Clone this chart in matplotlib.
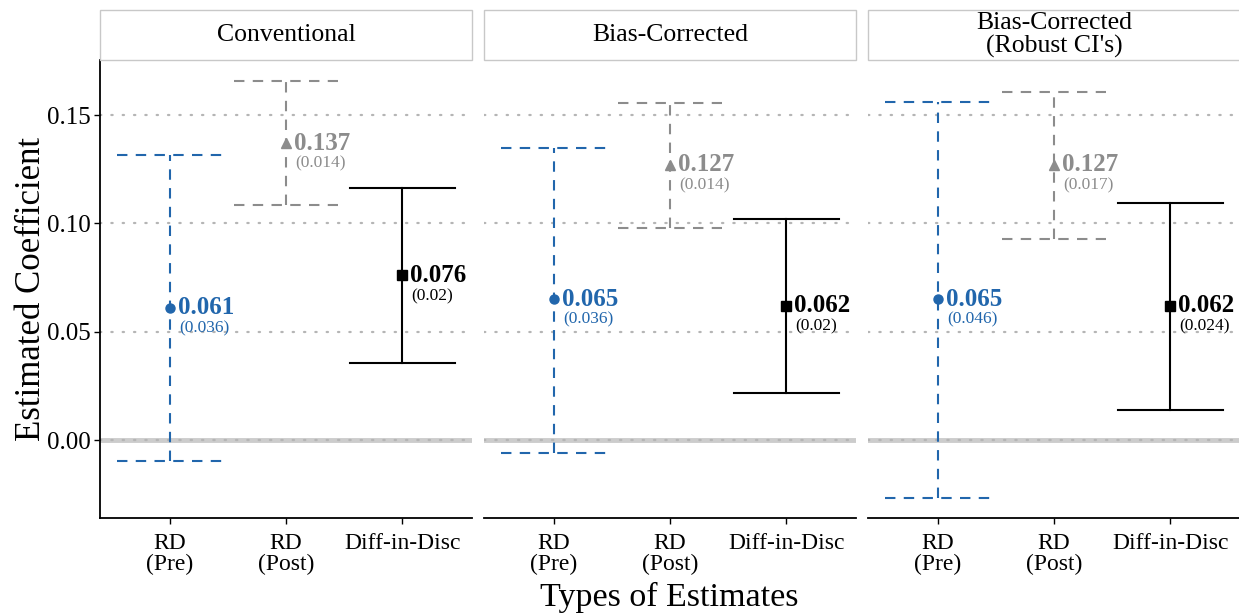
import matplotlib
matplotlib.use("Agg")
import matplotlib.pyplot as plt
from matplotlib.patches import Rectangle

plt.rcParams['font.family'] = ['Liberation Serif', 'DejaVu Serif']

panels = ["Conventional", "Bias-Corrected", "Bias-Corrected\n(Robust CI's)"]
categories = ["RD\n(Pre)", "RD\n(Post)", "Diff-in-Disc"]
estimates = [[0.061, 0.137, 0.076], [0.065, 0.127, 0.062], [0.065, 0.127, 0.062]]
std_errors = [["(0.036)", "(0.014)", "(0.02)"], ["(0.036)", "(0.014)", "(0.02)"], ["(0.046)", "(0.017)", "(0.024)"]]
ci_low = [[-0.0097, 0.1085, 0.0355], [-0.0058, 0.0978, 0.0215], [-0.0268, 0.0928, 0.0140]]
ci_high = [[0.1315, 0.1657, 0.1163], [0.1348, 0.1555, 0.1020], [0.1560, 0.1606, 0.1095]]
est_labels = [["0.061", "0.137", "0.076"], ["0.065", "0.127", "0.062"], ["0.065", "0.127", "0.062"]]

colors = ["#2166ac", "#8c8c8c", "#000000"]
markers = ["o", "^", "s"]
lstyles = [(0, (5, 4)), (0, (5, 4)), "-"]

W, H = 1239, 614
fig = plt.figure(figsize=(W / 100, H / 100), dpi=100)
lefts = [100, 484, 868]
pw = 372
top_px, bot_px = 60, 518
ylim = (-0.036, 0.1754)

for p in range(3):
    ax = fig.add_axes([lefts[p] / W, 1 - bot_px / H, pw / W, (bot_px - top_px) / H])
    ax.set_xlim(0.4, 3.6)
    ax.set_ylim(*ylim)
    for g in [0.05, 0.10, 0.15]:
        ax.axhline(g, color="#b5b5b5", lw=1.6, ls=(0, (0.6, 4.5)), dash_capstyle='round', zorder=0)
    ax.axhline(0, color="#cccccc", lw=3.5, zorder=0)
    ax.axhline(0, color="#b5b5b5", lw=1.6, ls=(0, (0.6, 4.5)), dash_capstyle='round', zorder=0)
    for i in range(3):
        x = i + 1
        c = colors[i]
        lo, hi = ci_low[p][i], ci_high[p][i]
        ax.plot([x, x], [lo, hi], color=c, lw=1.5, ls=lstyles[i], zorder=2)
        for yv in (lo, hi):
            ax.plot([x - 0.45, x + 0.45], [yv, yv], color=c, lw=1.5, ls=lstyles[i], zorder=2)
        ax.plot([x], [estimates[p][i]], marker=markers[i], color=c, ms=6.5, zorder=3, ls="none")
        ax.text(x + 0.07, estimates[p][i], est_labels[p][i], color=c, fontsize=18,
                fontweight="bold", ha="left", va="center", zorder=4)
        ax.text(x + 0.08, estimates[p][i] - 0.0095, std_errors[p][i], color=c, fontsize=12.5,
                ha="left", va="center", zorder=4)
    for s in ["top", "right"]:
        ax.spines[s].set_visible(False)
    ax.spines["bottom"].set_linewidth(1.3)
    ax.spines["left"].set_linewidth(1.3)
    ax.set_xticks([1, 2, 3])
    ax.set_xticklabels(categories, fontsize=17, linespacing=0.95)
    ax.tick_params(axis="x", length=4, width=1.0, pad=7)
    if p == 0:
        ax.set_yticks([0.0, 0.05, 0.10, 0.15])
        ax.set_yticklabels(["0.00", "0.05", "0.10", "0.15"], fontsize=18)
        ax.tick_params(axis="y", length=4, width=1.0, pad=3)
        ax.set_ylabel("Estimated Coefficient", fontsize=25, labelpad=-1)
    else:
        ax.spines["left"].set_visible(False)
        ax.set_yticks([])
    # strip
    sax = fig.add_axes([lefts[p] / W, 1 - 60 / H, pw / W, 50 / H])
    sax.set_xlim(0, 1)
    sax.set_ylim(0, 1)
    sax.axis("off")
    sax.add_patch(Rectangle((0, 0), 1, 1, facecolor="white", edgecolor="#c8c8c8", lw=1.0,
                            transform=sax.transAxes, clip_on=False))
    sax.text(0.5, 0.5, panels[p], ha="center", va="center", fontsize=18.5, linespacing=1.1)

fig.text((100 + 1239) / 2 / W, 1 - 597 / H, "Types of Estimates", ha="center", va="center", fontsize=24.5)

fig.savefig("out.png", dpi=100, facecolor="white")
